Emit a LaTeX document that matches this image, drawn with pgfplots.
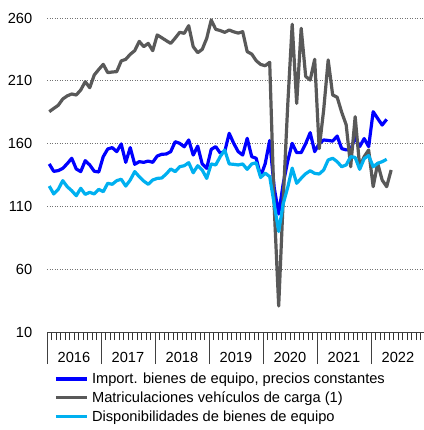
\documentclass[border=0pt]{standalone}
\usepackage{fontspec}
\setmainfont{Liberation Sans}
\usepackage{pgfplots}
\usepackage{pgfplotstable}
\pgfplotsset{compat=1.18}

\definecolor{impblue}{RGB}{0,0,255}
\definecolor{matgray}{RGB}{89,89,89}
\definecolor{dispblue}{RGB}{0,176,240}

% m = months since Jan 2016
\pgfplotstableread{
m v
0 143.8
1 137.9
2 138.5
3 140.3
4 144
5 148.3
6 139.8
7 137.7
8 146.4
9 143
10 138
11 137.4
12 149.6
13 155.7
14 156.8
15 153.6
16 159.7
17 145.1
18 156.8
19 143.5
20 145.6
21 145.1
22 146.1
23 145.1
24 150.1
25 151.5
26 151.7
27 153.6
28 161.5
29 160.2
30 157.5
31 162.9
32 150.9
33 158
34 143.8
35 140.3
36 155.4
37 157.6
38 152.5
39 153.6
40 168.2
41 160.2
42 153.6
43 150.9
44 164.2
45 149.6
46 148.3
47 134
48 144
49 162.5
50 125
51 104
52 128
53 146
54 160.2
55 152.8
56 152.8
57 160
58 168.7
59 153.6
60 160
61 162.9
62 162.5
63 162
64 166
65 156
66 155
67 155
68 165
69 157.6
70 164
71 157.6
72 185.4
73 180
74 174.8
75 179.3
}\importdata

\pgfplotstableread{
m v
0 185.4
1 188
2 190.5
3 195.5
4 198
5 199.5
6 198.7
7 202.7
8 209.3
9 204.5
10 214.6
11 219
12 223.1
13 216.5
14 217
15 217.3
16 225.8
17 227.1
18 231.1
19 234
20 241.4
21 237.2
22 239.8
23 234
24 246.5
25 244.3
26 242
27 239.8
28 244
29 248.6
30 247.8
31 253.9
32 237.2
33 232.4
34 235
35 243.8
36 258.4
37 251
38 250
39 248.6
40 250.4
41 249
42 248
43 249.1
44 233.2
45 231.3
46 226
47 223
48 222
49 224.7
50 110
51 30.7
52 115
53 190
54 255
55 192
56 251.8
57 213.5
58 210.6
59 227.1
60 156
61 186.8
62 226.6
63 198.7
64 196.9
65 185
66 175
67 141.6
68 181.4
69 141.6
70 149.6
71 154.9
72 125.7
73 144.3
74 131
75 125.7
76 139
}\matricdata

\pgfplotstableread{
m v
0 126.2
1 119.9
2 123.6
3 130.5
4 125.7
5 122.5
6 118.5
7 124.4
8 119.6
9 121.2
10 119.9
11 123.6
12 121.7
13 128.4
14 127.6
15 130.5
16 131.6
17 126.2
18 131
19 137.7
20 133.7
21 130.2
22 127.6
23 131
24 132.3
25 132.6
26 135.8
27 139.8
28 137.7
29 141.6
30 142.4
31 144.8
32 136.8
33 142.4
34 139
35 132.3
36 143.8
37 143
38 149.6
39 154.9
40 143.8
41 143.5
42 143
43 143.8
44 139.5
45 143.8
46 144.8
47 133
48 136.5
49 133.7
50 112
51 90
52 112
53 125
54 140.5
55 128.4
56 132.4
57 136
58 138.4
59 136.3
60 135.8
61 139
62 147
63 148.3
64 145.6
65 141.6
66 143
67 149.6
68 149
69 139.5
70 148
71 150.5
72 141.6
73 144.3
74 145.6
75 147.5
}\dispdata

\newcommand{\chartfont}{\fontsize{14.7}{17.5}\selectfont}

\begin{document}
\begin{tikzpicture}
\begin{axis}[
    scale only axis,
    width=377bp, height=314bp,
    xmin=0, xmax=83.8,
    ymin=10, ymax=260,
    axis x line*=bottom, axis y line*=left,
    x axis line style={-, draw=black!75, line width=0.8bp},
    y axis line style={draw=none},
    ytick={10,60,...,260},
    ytick style={draw=none},
    ymajorgrids,
    major grid style={draw=black!55, line width=0.9bp, dash pattern=on 0.9bp off 1.6bp},
    tick align=outside,
    xtick={6,18,...,78},
    xticklabels={2016,2017,2018,2019,2020,2021,2022},
    major x tick style={draw=none},
    minor xtick={0,...,83},
    minor tick length=8bp,
    minor x tick style={draw=black!80, line width=0.8bp},
    extra x ticks={0,12,...,72},
    extra x tick labels={},
    extra x tick style={major tick length=32bp, major x tick style={draw=black!75, line width=0.8bp}, grid=none},
    xticklabel style={anchor=center, yshift=-21bp},
    yticklabel style={xshift=-7bp},
    tick label style={font=\chartfont},
    /pgf/number format/assume math mode=true,
    legend style={at={(0.019,-0.125)}, anchor=north west, draw=none, fill=none,
        inner sep=0pt, row sep=3.6bp, font=\chartfont,
        nodes={inner sep=1.5bp}},
    legend cell align=left,
    legend image code/.code={\draw[#1] (0bp,0bp) -- (31bp,0bp); \path (33bp,0bp);},
    every axis plot/.append style={line width=3.2bp, line join=round},
]
\addplot[impblue] table[x expr=\thisrow{m}+0.5, y=v] {\importdata};
\addlegendentry{Import. bienes de equipo, precios constantes}
\addplot[matgray] table[x expr=\thisrow{m}+0.5, y=v] {\matricdata};
\addlegendentry{Matriculaciones vehículos de carga (1)}
\addplot[dispblue] table[x expr=\thisrow{m}+0.5, y=v] {\dispdata};
\addlegendentry{Disponibilidades de bienes de equipo}
\end{axis}
\pgfresetboundingbox
\path (-47bp,-98bp) rectangle (377bp,332bp);
\end{tikzpicture}
\end{document}
